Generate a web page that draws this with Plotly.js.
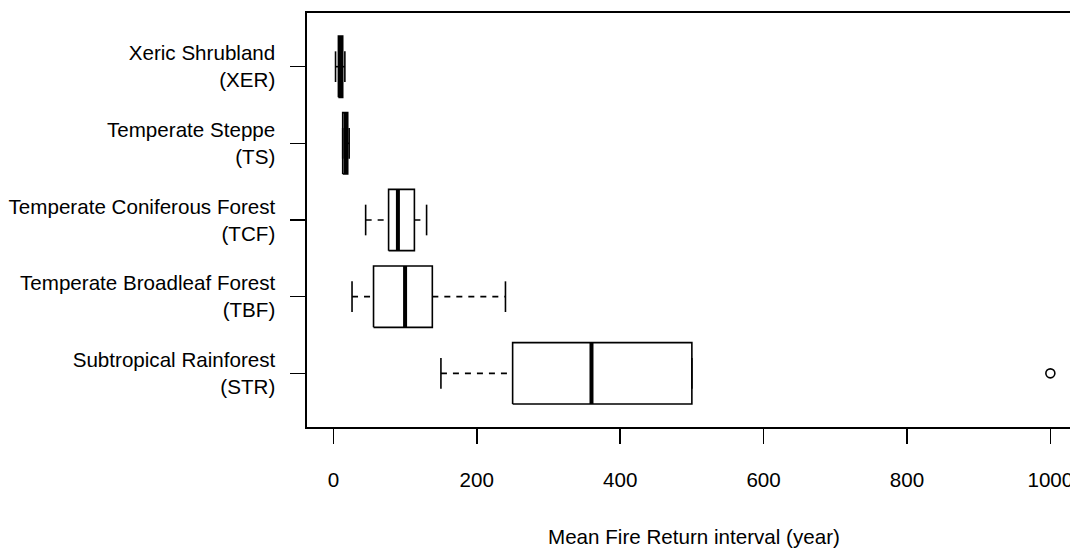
<!DOCTYPE html>
<html>
<head>
<meta charset="utf-8">
<script src="https://cdn.plot.ly/plotly-3.0.1.min.js"></script>
<style>html,body{margin:0;padding:0;background:#fff;}</style>
</head>
<body>
<div id="chart" style="width:1070px;height:550px;"></div>
<script>
// Data (bottom to top: positions 1..5)
const categories = ["Subtropical Rainforest<br>(STR)", "Temperate Broadleaf Forest<br>(TBF)", "Temperate Coniferous Forest<br>(TCF)", "Temperate Steppe<br>(TS)", "Xeric Shrubland<br>(XER)"];
const lowerWhisker = [150, 26, 45, 13, 3];
const q1Values     = [250, 56, 77, 13, 7];
const medianValues = [360, 100, 90, 17, 10];
const q3Values     = [500, 138, 113, 20, 13];
const upperWhisker = [500, 240, 130, 22, 16];
const outlierX = [1000];
const outlierGroup = [1];
const xTicks = [0, 200, 400, 600, 800, 1000];

const positions = categories.map((c, i) => i + 1);
const halfBox = 0.4, halfStaple = 0.2;
const lw = 1.6;

const boxX = [], boxY = [], medX = [], medY = [], whX = [], whY = [], stX = [], stY = [];
positions.forEach((p, i) => {
  boxX.push(q1Values[i], q3Values[i], q3Values[i], q1Values[i], q1Values[i], null);
  boxY.push(p - halfBox, p - halfBox, p + halfBox, p + halfBox, p - halfBox, null);
  medX.push(medianValues[i], medianValues[i], null);
  medY.push(p - halfBox, p + halfBox, null);
  if (lowerWhisker[i] < q1Values[i]) { whX.push(lowerWhisker[i], q1Values[i], null); whY.push(p, p, null); }
  if (upperWhisker[i] > q3Values[i]) { whX.push(q3Values[i], upperWhisker[i], null); whY.push(p, p, null); }
  stX.push(lowerWhisker[i], lowerWhisker[i], null, upperWhisker[i], upperWhisker[i], null);
  stY.push(p - halfStaple, p + halfStaple, null, p - halfStaple, p + halfStaple, null);
});

const traces = [
  {type: 'scatter', mode: 'lines', x: whX, y: whY, line: {color: '#000', width: lw, dash: '6px,6px'}, hoverinfo: 'skip'},
  {type: 'scatter', mode: 'lines', x: stX, y: stY, line: {color: '#000', width: lw}, hoverinfo: 'skip'},
  {type: 'scatter', mode: 'lines', x: boxX, y: boxY, line: {color: '#000', width: lw}, hoverinfo: 'skip'},
  {type: 'scatter', mode: 'lines', x: medX, y: medY, line: {color: '#000', width: 4}, hoverinfo: 'skip'},
  {type: 'scatter', mode: 'markers', x: outlierX, y: outlierGroup,
   marker: {symbol: 'circle-open', size: 9, color: '#000', line: {width: lw, color: '#000'}}, hoverinfo: 'skip'}
];

const fontFam = '"Liberation Sans", Arial, sans-serif';
const fs = 20.6;
const layout = {
  width: 1070, height: 550,
  margin: {l: 307, r: 0, t: 13, b: 123, pad: 0},
  paper_bgcolor: '#fff', plot_bgcolor: '#fff',
  showlegend: false,
  font: {family: fontFam, size: fs, color: '#000'},
  xaxis: {
    range: [-36.8, 1027.4], tickvals: xTicks, ticktext: xTicks.map(String),
    ticks: 'outside', ticklen: 15, tickwidth: lw, tickcolor: '#000',
    showline: true, linewidth: lw, linecolor: '#000', mirror: true,
    showgrid: false, zeroline: false, ticklabelstandoff: 19,
    ticklabeloverflow: 'allow',
    tickfont: {family: fontFam, size: fs, color: '#000'}
  },
  yaxis: {
    range: [0.3, 5.7], tickvals: positions, ticktext: categories,
    ticks: 'outside', ticklen: 15, tickwidth: lw, tickcolor: '#000',
    showline: true, linewidth: lw, linecolor: '#000',
    showgrid: false, zeroline: false, ticklabelstandoff: 11,
    ticklabeloverflow: 'allow',
    tickfont: {family: fontFam, size: fs, color: '#000'}
  },
  annotations: [{
    text: 'Mean Fire Return interval (year)', xref: 'paper', yref: 'paper',
    x: 0.5072, y: -0.2633, xanchor: 'center', yanchor: 'middle', showarrow: false,
    font: {family: fontFam, size: fs, color: '#000'}
  }]
};

Plotly.newPlot('chart', traces, layout, {staticPlot: true, displayModeBar: false});
</script>
</body>
</html>
